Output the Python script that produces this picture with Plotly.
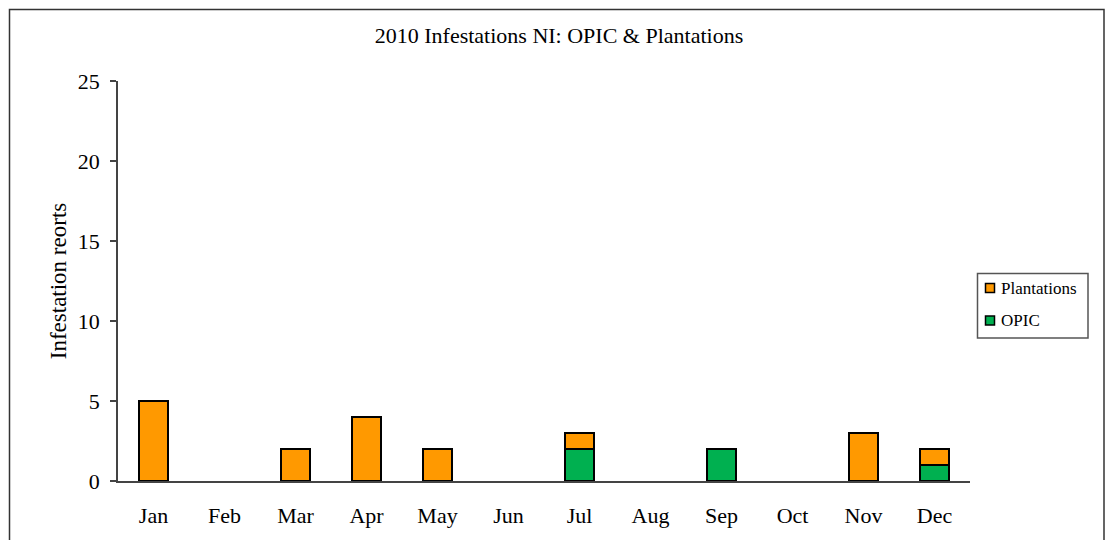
import plotly.graph_objects as go

months = ["Jan", "Feb", "Mar", "Apr", "May", "Jun",
          "Jul", "Aug", "Sep", "Oct", "Nov", "Dec"]
opic = [0, 0, 0, 0, 0, 0, 2, 0, 2, 0, 0, 1]
plantations = [5, 0, 2, 4, 2, 0, 1, 0, 0, 0, 3, 1]

FONT = "Liberation Serif, Times New Roman, serif"
ORANGE = "#FF9900"
GREEN = "#00B050"

# empty months are left blank rather than drawn as flat outlined bars
def blank_zeros(vals):
    return [v if v else None for v in vals]

series = [("OPIC", opic, GREEN), ("Plantations", plantations, ORANGE)]

fig = go.Figure()
for name, vals, color in series:
    fig.add_trace(go.Bar(
        x=months, y=blank_zeros(vals), name=name, showlegend=False,
        marker=dict(color=color, line=dict(color="black", width=2)),
    ))

L, R, T, B = 118, 139, 81, 59
W, H = 1109, 540
pw, ph = W - L - R, H - T - B

def px_x(px):
    return (px - L) / pw

def px_y(py):
    return (H - B - py) / ph

# boxed legend at the right, Plantations listed first
shapes = [
    dict(type="rect", xref="paper", yref="paper",
         x0=px_x(9.5), x1=px_x(1104), y0=px_y(560), y1=px_y(9.5),
         line=dict(color="#333", width=1.5), fillcolor="rgba(0,0,0,0)",
         layer="below"),
    dict(type="rect", xref="paper", yref="paper",
         x0=px_x(977.5), x1=px_x(1088), y0=px_y(338), y1=px_y(273.5),
         line=dict(color="#555", width=1.5), fillcolor="white"),
]
annotations = []
for i, (name, vals, color) in enumerate(reversed(series)):
    cy = 288 + i * 32.5
    shapes.append(dict(
        type="rect", xref="paper", yref="paper",
        x0=px_x(985.5), x1=px_x(994.5), y0=px_y(cy + 4.5), y1=px_y(cy - 4.5),
        line=dict(color="black", width=1.5), fillcolor=color,
    ))
    annotations.append(dict(
        text=name, xref="paper", yref="paper", x=px_x(999), y=px_y(cy),
        xanchor="left", yanchor="middle", showarrow=False,
        font=dict(size=17, family=FONT, color="black"),
    ))

fig.update_layout(
    width=W, height=H,
    margin=dict(l=L, r=R, t=T, b=B, autoexpand=False),
    barmode="stack",
    bargap=0.6,
    plot_bgcolor="white",
    paper_bgcolor="white",
    font=dict(family=FONT, color="black"),
    title=dict(
        text="2010 Infestations NI: OPIC & Plantations",
        x=559 / W, xanchor="center",
        y=1 - 35 / H, yanchor="middle",
        font=dict(size=22, family=FONT),
    ),
    xaxis=dict(
        automargin=False,
        showline=True, linecolor="#444", linewidth=1.5,
        ticks="", tickfont=dict(size=22, family=FONT),
        ticklabelstandoff=14,
        showgrid=False,
    ),
    yaxis=dict(
        automargin=False,
        range=[0, 25], tickvals=[0, 5, 10, 15, 20, 25],
        showline=True, linecolor="#444", linewidth=1.5,
        ticks="outside", ticklen=6, tickcolor="#444", tickwidth=1.5,
        tickfont=dict(size=22, family=FONT),
        ticklabelstandoff=6,
        showgrid=False, zeroline=False,
        title=dict(text="Infestation reorts", font=dict(size=23, family=FONT), standoff=5),
    ),
    shapes=shapes,
    annotations=annotations,
)

fig.write_html("out.html")
